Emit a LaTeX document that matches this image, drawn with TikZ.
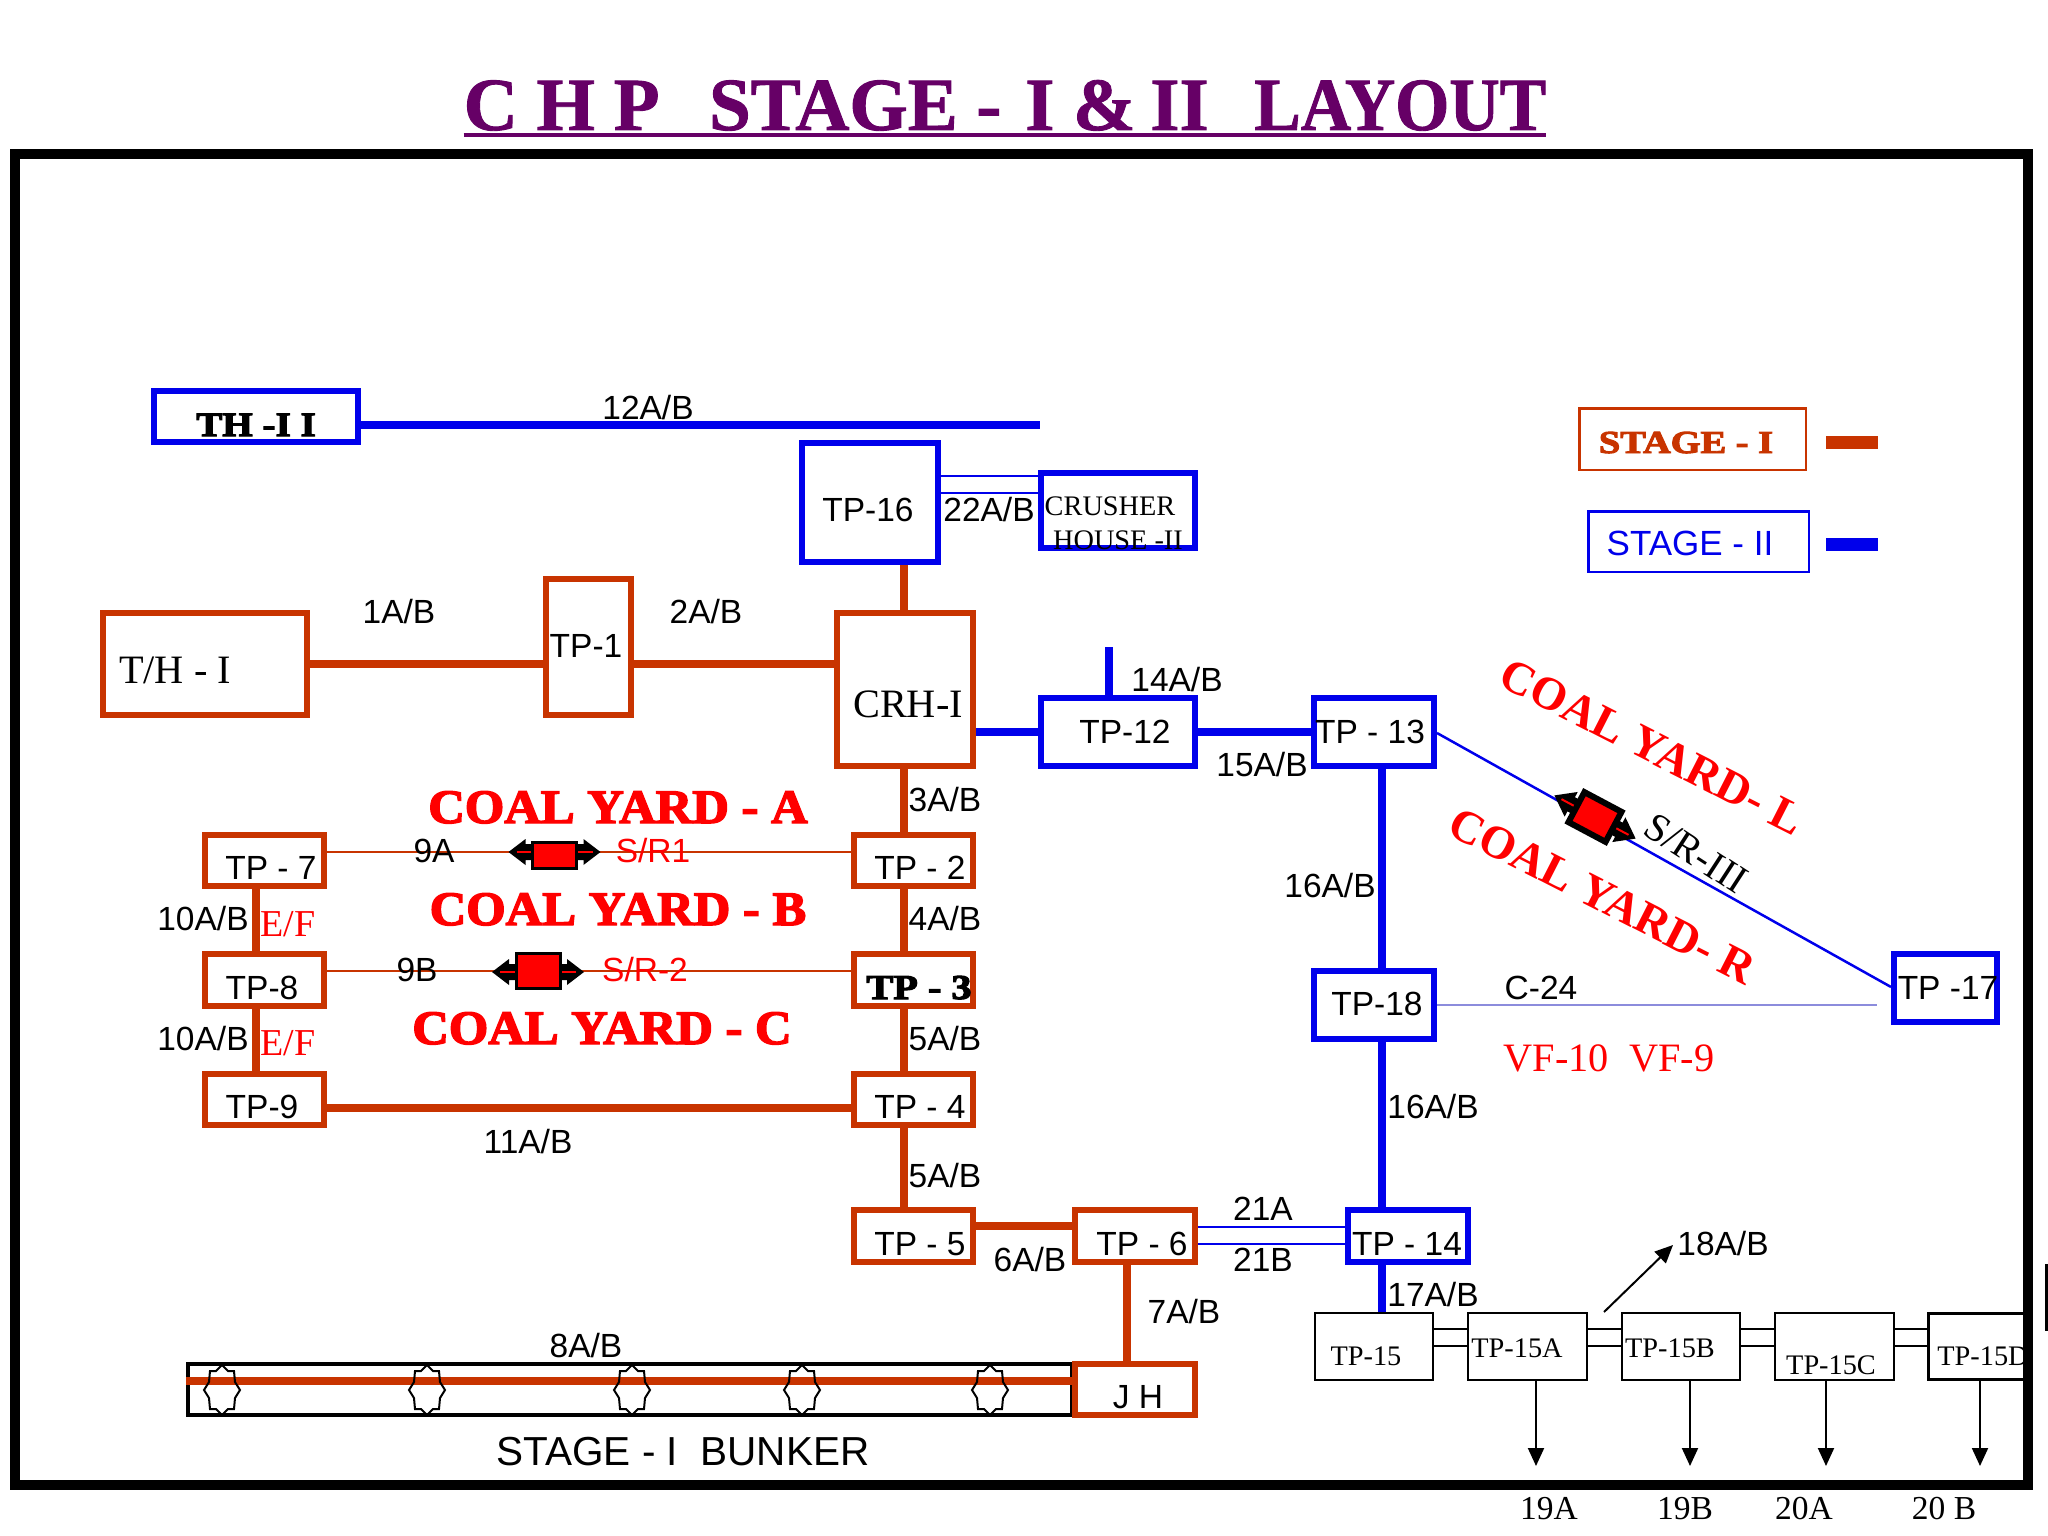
\documentclass[tikz,border=0pt]{standalone}
\usepackage{fontspec}
\usepackage{graphicx}
\setmainfont{Liberation Sans}
\newfontfamily\lserif{Liberation Serif}
\newfontfamily\lserifb{Liberation Serif Bold}
\newfontfamily\fatface[FakeBold=3]{Liberation Serif Bold}
\newfontfamily\titleface[FakeBold=1.2]{Liberation Serif Bold}
\usetikzlibrary{arrows.meta}
\definecolor{oc}{RGB}{200,52,0}
\definecolor{bc}{RGB}{0,0,235}
\definecolor{tc}{RGB}{102,0,102}
\definecolor{pale}{RGB}{140,140,220}
\newcommand\fz[1]{\fontsize{#1}{#1}\selectfont}
% outer-edge box
\newcommand\bx[7]{%
  \pgfmathsetmacro\mycx{(#4+#6)/2}\pgfmathsetmacro\mycy{(#5+#7)/2}%
  \pgfmathsetmacro\myw{#6-#4-#2}\pgfmathsetmacro\myh{#7-#5-#2}%
  \node[#1,line width=#2,minimum width=\myw,minimum height=\myh,inner sep=0pt] (#3) at (\mycx,\mycy) {};}
\newcommand\hc[4]{\draw[#1] (#2.east |- 0,#4) -- (#3.west |- 0,#4);}
\newcommand\vc[4]{\draw[#1] (#2.south -| #4,0) -- (#3.north -| #4,0);}
% sorter: x y rot top bottom lw halfwidth headback headhalf
\newcommand\sorter[9]{%
  \begin{scope}[shift={(#1,#2)},rotate=#3]
    \fill[black] (-46,0) -- (-#8,-#9) -- (-#8,-8) -- (#8,-8) -- (#8,-#9) -- (46,0) -- (#8,#9) -- (#8,8) -- (-#8,8) -- (-#8,#9) -- cycle;
    \draw[red,line width=2] (-38,0) -- (38,0);
    \draw[black,fill=red,line width=#6] (-#7,#4) rectangle (#7,#5);
  \end{scope}}
\tikzset{
  obox/.style={draw=oc,fill=white},
  bbox/.style={draw=bc,fill=white},
  kbox/.style={draw=black},
  oline/.style={draw=oc,line width=8},
  bline/.style={draw=bc,line width=8},
  othin/.style={draw=oc,line width=2.5},
  bthin/.style={draw=bc,line width=2},
  kthin/.style={draw=black,line width=2},
  kout/.style={draw=black,line width=2,-{Triangle[length=18,width=16]}},
  lab/.style={anchor=base,inner sep=0pt,font=\fz{33.5}},
  slab/.style={anchor=base,inner sep=0pt,font=\lserif\fz{40.3}},
  tlab/.style={anchor=base,inner sep=0pt,font=\lserif\fz{28.3}},
  blab/.style={anchor=base,inner sep=0pt,font=\lserif\fz{33.5}},
  rlab/.style={anchor=base,inner sep=0pt,text=red,font=\fz{33.5}},
  flab/.style={anchor=base,inner sep=0pt,font=\fatface\fz{48}},
  ylab/.style={anchor=center,inner sep=0pt,text=red,rotate=-27,font=\lserifb\fz{46.5}},
  starmark/.pic={\draw[black,line width=2] (0,-25) -- (6,-19) -- (12,-19) -- (13,-8) -- (18,0) -- (13,8) -- (12,19) -- (6,19) -- (0,25) -- (-6,19) -- (-12,19) -- (-13,8) -- (-18,0) -- (-13,-8) -- (-12,-19) -- (-6,-19) -- cycle;}
}
\begin{document}
\begin{tikzpicture}[x=1pt,y=-1pt]
\useasboundingbox (0,0) rectangle (2048,1536);
% frame and title
\bx{draw=black}{10}{frame}{10}{149}{2033}{1490}
\node[anchor=base,inner sep=0pt,text=tc,font=\titleface\fz{75}] (title) at (1005,130) {C H P\ \ \hspace{12pt}STAGE -\hspace{5pt} I \& \hspace{-4pt}II\ \ \hspace{8pt}\scalebox{0.93}[1]{LAYOUT}};
\draw[tc,line width=4] (title.base west |- 0,135) -- (title.base east |- 0,135);
\draw[black,line width=3] (2046.5,1264) -- (2046.5,1331);
% free ends
\coordinate (c12) at (1040,425);
\coordinate (c14) at (1109,647);
% Boxes
\bx{bbox}{6}{th2}{151}{388}{361}{445}
\bx{bbox}{6}{tp16}{799}{440}{941}{565}
\bx{bbox}{6}{ch2}{1038}{470}{1198}{551}
\bx{obox}{6}{th1}{100}{610}{310}{718}
\bx{obox}{6}{tp1}{543}{576}{634}{718}
\bx{obox}{6}{crh}{834}{610}{976}{769}
\bx{bbox}{6}{tp12}{1038}{695}{1198}{769}
\bx{bbox}{6}{tp13}{1311}{695}{1437}{769}
\bx{obox}{6}{tp7}{202}{832}{327}{889}
\bx{obox}{6}{tp2}{851}{832}{976}{889}
\bx{obox}{6}{tp8}{202}{951}{327}{1009}
\bx{obox}{6}{tp3}{851}{951}{976}{1009}
\bx{obox}{6}{tp9}{202}{1071}{327}{1128}
\bx{obox}{6}{tp4}{851}{1071}{976}{1128}
\bx{obox}{6}{tp5}{851}{1207}{976}{1265}
\bx{obox}{6}{tp6}{1072}{1207}{1198}{1265}
\bx{bbox}{6}{tp14}{1345}{1207}{1471}{1265}
\bx{bbox}{6}{tp18}{1311}{968}{1437}{1042}
\bx{bbox}{6}{tp17}{1891}{951}{2000}{1025}
\bx{kbox}{4}{bunker}{186}{1362}{1074}{1417}
\bx{obox}{6}{jh}{1072}{1361}{1198}{1418}
\bx{kbox}{2}{tp15}{1314}{1312}{1434}{1381}
\bx{kbox}{2}{tp15a}{1467}{1312}{1588}{1381}
\bx{kbox}{2}{tp15b}{1621}{1312}{1741}{1381}
\bx{kbox}{2}{tp15c}{1774}{1312}{1895}{1381}
\bx{kbox}{3}{tp15d}{1927}{1312}{2029}{1381}
\bx{draw=oc}{2.5}{leg1}{1578}{407}{1807}{471}
\bx{draw=bc}{2.5}{leg2}{1587}{510}{1810}{573}
% Blue connectors
\draw[bline] (th2.east |- c12) -- (c12);
\hc{bthin}{tp16}{ch2}{476}
\hc{bthin}{tp16}{ch2}{493}
\hc{bline}{crh}{tp12}{732}
\hc{bline}{tp12}{tp13}{732}
\draw[bline] (c14) -- (tp12.north -| c14);
\vc{bline}{tp13}{tp18}{1382}
\vc{bline}{tp18}{tp14}{1382}
\vc{bline}{tp14}{tp15}{1382}
\draw[draw=bc,line width=2.5] (tp13.east |- 0,733) -- (tp17.west |- 0,987);
\draw[pale,line width=1.5] (tp18.east |- 0,1005) -- (1877,1005);
\hc{bthin}{tp6}{tp14}{1227}
\hc{bthin}{tp6}{tp14}{1244}
% Orange connectors
\vc{oline}{tp16}{crh}{904}
\hc{oline}{th1}{tp1}{664}
\hc{oline}{tp1}{crh}{664}
\vc{oline}{crh}{tp2}{904}
\vc{oline}{tp2}{tp3}{904}
\vc{oline}{tp3}{tp4}{904}
\vc{oline}{tp4}{tp5}{904}
\vc{oline}{tp7}{tp8}{256}
\vc{oline}{tp8}{tp9}{256}
\hc{othin}{tp7}{tp2}{852}
\hc{othin}{tp8}{tp3}{971}
\hc{oline}{tp9}{tp4}{1108}
\hc{oline}{tp5}{tp6}{1226}
\vc{oline}{tp6}{jh}{1126.5}
\draw[oline] (bunker.west |- 0,1381) -- (jh.west |- 0,1381);
% Bunker stars
\foreach \sx in {222,427,632,802,990} \pic at (\sx,1390) {starmark};
% Black connectors
\foreach \y in {1329,1346}{
  \hc{kthin}{tp15}{tp15a}{\y}
  \hc{kthin}{tp15a}{tp15b}{\y}
  \hc{kthin}{tp15b}{tp15c}{\y}
  \hc{kthin}{tp15c}{tp15d}{\y}
}
\coordinate (e19a) at (1536,1466);
\coordinate (e19b) at (1690,1466);
\coordinate (e20a) at (1826,1466);
\coordinate (e20b) at (1980,1466);
\coordinate (e18) at (1673,1245);
\draw[kout] (tp15a.south -| e19a) -- (e19a);
\draw[kout] (tp15b.south -| e19b) -- (e19b);
\draw[kout] (tp15c.south -| e20a) -- (e20a);
\draw[kout] (tp15d.south -| e20b) -- (e20b);
\draw[kout] (1604,1312) -- (e18);
% legend dashes
\draw[oc,line width=13] (1826,442) -- (1878,442);
\draw[bc,line width=13] (1826,544) -- (1878,544);
% Sorters
\sorter{554.5}{852}{0}{-10}{16}{3}{22}{29}{13}
\sorter{538}{972}{0}{-19}{16}{3}{22}{29}{13}
\sorter{1595}{817}{-28}{-17}{17}{6}{21}{27}{14}
% Labels
\node[lab] (l12) at (648,419) {12A/B};
\node[lab] (l16) at (868,521) {TP-16};
\node[lab] (l22) at (989,521) {22A/B};
\node[lab] (l1) at (399,623) {1A/B};
\node[lab] (l2) at (706,623) {2A/B};
\node[lab] (ltp1) at (586,657) {TP-1};
\node[lab] (l3) at (945,811) {3A/B};
\node[lab] (ltp7) at (271,879) {TP - 7};
\node[lab] (l9a) at (434,862) {9A};
\node[rlab] (lsr1) at (653,862) {S/R1};
\node[lab] (ltp2) at (920,879) {TP - 2};
\node[lab] (l10a) at (203,930) {10A/B};
\node[slab,text=red,font=\lserif\fz{38}] (lef1) at (288,936) {E/F};
\node[lab] (l4) at (945,930) {4A/B};
\node[lab] (ltp8) at (262,999) {TP-8};
\node[lab] (l9b) at (417,981) {9B};
\node[rlab] (lsr2) at (645,981) {S/R-2};
\node[lab] (l10b) at (203,1050) {10A/B};
\node[slab,text=red,font=\lserif\fz{38}] (lef2) at (288,1055) {E/F};
\node[lab] (l5a) at (945,1050) {5A/B};
\node[lab] (ltp9) at (262,1118) {TP-9};
\node[lab] (ltp4) at (920,1118) {TP - 4};
\node[lab] (l11) at (528,1153) {11A/B};
\node[lab] (l5b) at (945,1187) {5A/B};
\node[lab] (ltp5) at (920,1255) {TP - 5};
\node[lab] (l6) at (1030,1271) {6A/B};
\node[lab] (l8) at (586,1357) {8A/B};
\node[lab,font=\fz{40.5}] (lbunk) at (683,1465) {STAGE - I\ \ BUNKER};
\node[lab] (ljh) at (1138,1408) {J H};
\node[lab] (ltp6) at (1142,1255) {TP - 6};
\node[lab] (l21a) at (1263,1220) {21A};
\node[lab] (l21b) at (1263,1271) {21B};
\node[lab] (ltp14) at (1407,1255) {TP - 14};
\node[lab] (l7) at (1184,1323) {7A/B};
\node[lab] (l17) at (1433,1306) {17A/B};
\node[lab] (l16b) at (1433,1118) {16A/B};
\node[lab] (ltp18) at (1377,1015) {TP-18};
\node[lab] (lc24) at (1541,999) {C-24};
\node[lab] (ltp17) at (1948,999) {TP -17};
\node[lab] (l18) at (1723,1255) {18A/B};
\node[lab] (ltp12) at (1125,743) {TP-12};
\node[lab] (l14) at (1177,691) {14A/B};
\node[lab] (ltp13) at (1370,743) {TP - 13};
\node[lab] (l15) at (1262,776) {15A/B};
\node[lab] (l16a) at (1330,897) {16A/B};
\node[lab,text=bc,font=\fz{35}] (lleg2) at (1690,555) {STAGE - II};
% Serif labels
\node[slab] (lth1) at (175,683) {T/H - I};
\node[slab] (lcrh) at (908,717) {CRH-I};
\node[slab,text=red] (lvf) at (1609,1071) {VF-10\ \ VF-9};
\node[tlab] (lcr1) at (1110,515) {CRUSHER};
\node[tlab] (lcr2) at (1118,549) {HOUSE -II};
\node[tlab] (lt15) at (1366,1365) {TP-15};
\node[tlab] (lt15a) at (1517,1357) {TP-15A};
\node[tlab] (lt15b) at (1670,1357) {TP-15B};
\node[tlab] (lt15c) at (1831,1374) {TP-15C};
\node[tlab] (lt15d) at (1983,1365) {TP-15D};
\node[blab] (l19a) at (1549,1519) {19A};
\node[blab] (l19b) at (1685,1519) {19B};
\node[blab] (l20a) at (1804,1519) {20A};
\node[blab] (l20b) at (1944,1519) {20 B};
\node[anchor=center,inner sep=0pt,rotate=-33,font=\lserif\fz{40}] (lsr3) at (1696,853) {S/R-III};
% Fat labels
\node[flab,text=red] (lya) at (618,823) {\scalebox{1.055}[1]{COAL YARD - A}};
\node[flab,text=red] (lyb) at (618,925) {\scalebox{1.055}[1]{COAL YARD - B}};
\node[flab,text=red] (lyc) at (602,1044) {\scalebox{1.055}[1]{COAL YARD - C}};
\node[flab,text=oc,font=\fatface\fz{32}] (lleg1) at (1686,453) {\scalebox{1.2}[1]{STAGE - I}};
\node[flab,font=\fatface\fz{34}] (lth2) at (256,436) {\scalebox{1.15}[1]{TH -I I}};
\node[flab,font=\fatface\fz{35}] (ltp3) at (919,999) {\scalebox{1.15}[1]{TP - 3}};
% Rotated yard labels
\node[ylab] (lyl) at (1652,747) {COAL YARD- L};
\node[ylab] (lyr) at (1602,896) {COAL YARD- R};
\end{tikzpicture}
\end{document}
